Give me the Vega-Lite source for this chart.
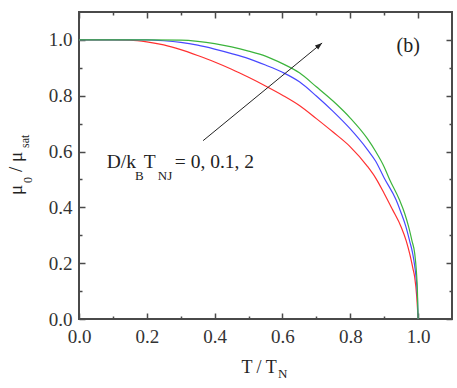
{
  "$schema": "https://vega.github.io/schema/vega-lite/v6.json",
  "width": 373,
  "height": 307,
  "autosize": {"type": "none"},
  "padding": {"left": 79, "top": 12, "right": 5, "bottom": 69},
  "background": "white",
  "config": {
    "font": "Liberation Serif",
    "view": {"stroke": "#4a4a4a", "strokeWidth": 2},
    "axis": {"grid": false, "domain": false, "title": null, "labelFont": "Liberation Serif", "labelFontSize": 19, "labelColor": "#333333", "tickColor": "#4a4a4a", "tickWidth": 1.5, "labelFlush": false, "labelOverlap": false},
    "text": {"font": "Liberation Serif", "color": "#222222"}
  },
  "datasets": {
    "curves": [
      {"T": 0.0, "m": 1.0, "s": "0"}, {"T": 0.05, "m": 1.0, "s": "0"}, {"T": 0.1, "m": 1.0, "s": "0"}, {"T": 0.15, "m": 0.999, "s": "0"}, {"T": 0.2, "m": 0.993, "s": "0"}, {"T": 0.25, "m": 0.982, "s": "0"}, {"T": 0.3, "m": 0.965, "s": "0"}, {"T": 0.35, "m": 0.944, "s": "0"}, {"T": 0.4, "m": 0.921, "s": "0"}, {"T": 0.45, "m": 0.895, "s": "0"}, {"T": 0.5, "m": 0.866, "s": "0"}, {"T": 0.55, "m": 0.835, "s": "0"}, {"T": 0.6, "m": 0.802, "s": "0"}, {"T": 0.65, "m": 0.765, "s": "0"}, {"T": 0.7, "m": 0.718, "s": "0"}, {"T": 0.75, "m": 0.669, "s": "0"}, {"T": 0.8, "m": 0.617, "s": "0"}, {"T": 0.85, "m": 0.548, "s": "0"}, {"T": 0.875, "m": 0.505, "s": "0"}, {"T": 0.9, "m": 0.45, "s": "0"}, {"T": 0.925, "m": 0.391, "s": "0"}, {"T": 0.95, "m": 0.33, "s": "0"}, {"T": 0.965, "m": 0.28, "s": "0"}, {"T": 0.975, "m": 0.235, "s": "0"}, {"T": 0.985, "m": 0.18, "s": "0"}, {"T": 0.99, "m": 0.15, "s": "0"}, {"T": 0.996, "m": 0.08, "s": "0"}, {"T": 1.0, "m": 0.0, "s": "0"},
      {"T": 0.0, "m": 1.0, "s": "0.1"}, {"T": 0.1, "m": 1.0, "s": "0.1"}, {"T": 0.2, "m": 1.0, "s": "0.1"}, {"T": 0.25, "m": 0.997, "s": "0.1"}, {"T": 0.3, "m": 0.991, "s": "0.1"}, {"T": 0.35, "m": 0.981, "s": "0.1"}, {"T": 0.4, "m": 0.967, "s": "0.1"}, {"T": 0.45, "m": 0.951, "s": "0.1"}, {"T": 0.5, "m": 0.933, "s": "0.1"}, {"T": 0.55, "m": 0.91, "s": "0.1"}, {"T": 0.6, "m": 0.884, "s": "0.1"}, {"T": 0.65, "m": 0.85, "s": "0.1"}, {"T": 0.7, "m": 0.799, "s": "0.1"}, {"T": 0.75, "m": 0.743, "s": "0.1"}, {"T": 0.8, "m": 0.681, "s": "0.1"}, {"T": 0.85, "m": 0.608, "s": "0.1"}, {"T": 0.875, "m": 0.565, "s": "0.1"}, {"T": 0.9, "m": 0.505, "s": "0.1"}, {"T": 0.935, "m": 0.427, "s": "0.1"}, {"T": 0.95, "m": 0.38, "s": "0.1"}, {"T": 0.964, "m": 0.331, "s": "0.1"}, {"T": 0.975, "m": 0.28, "s": "0.1"}, {"T": 0.984, "m": 0.235, "s": "0.1"}, {"T": 0.99, "m": 0.19, "s": "0.1"}, {"T": 0.994, "m": 0.15, "s": "0.1"}, {"T": 0.998, "m": 0.08, "s": "0.1"}, {"T": 1.0, "m": 0.0, "s": "0.1"},
      {"T": 0.0, "m": 1.0, "s": "2"}, {"T": 0.1, "m": 1.0, "s": "2"}, {"T": 0.2, "m": 1.0, "s": "2"}, {"T": 0.3, "m": 0.999, "s": "2"}, {"T": 0.35, "m": 0.995, "s": "2"}, {"T": 0.4, "m": 0.987, "s": "2"}, {"T": 0.45, "m": 0.975, "s": "2"}, {"T": 0.5, "m": 0.96, "s": "2"}, {"T": 0.55, "m": 0.942, "s": "2"}, {"T": 0.6, "m": 0.915, "s": "2"}, {"T": 0.65, "m": 0.882, "s": "2"}, {"T": 0.7, "m": 0.832, "s": "2"}, {"T": 0.75, "m": 0.78, "s": "2"}, {"T": 0.8, "m": 0.72, "s": "2"}, {"T": 0.85, "m": 0.647, "s": "2"}, {"T": 0.875, "m": 0.6, "s": "2"}, {"T": 0.9, "m": 0.545, "s": "2"}, {"T": 0.916, "m": 0.5, "s": "2"}, {"T": 0.945, "m": 0.427, "s": "2"}, {"T": 0.96, "m": 0.38, "s": "2"}, {"T": 0.972, "m": 0.331, "s": "2"}, {"T": 0.982, "m": 0.28, "s": "2"}, {"T": 0.99, "m": 0.235, "s": "2"}, {"T": 0.995, "m": 0.17, "s": "2"}, {"T": 0.998, "m": 0.1, "s": "2"}, {"T": 1.0, "m": 0.0, "s": "2"}
    ],
    "arrow": [{"x": 0.366, "y": 0.639}, {"x": 0.717, "y": 0.989}],
    "head": [{"x": 0.717, "y": 0.989}],
    "annMain": [{"x": 0.0815, "y": 0.54, "t": "D/k"}, {"x": 0.191, "y": 0.54, "t": "T"}, {"x": 0.2826, "y": 0.54, "t": "= 0, 0.1, 2"}],
    "annSub": [{"x": 0.165, "y": 0.498, "t": "B"}, {"x": 0.2326, "y": 0.498, "t": "NJ"}],
    "panel": [{"x": 0.971, "y": 0.957, "t": "(b)"}],
    "xtMain": [{"x": 0.479, "y": -0.1935, "t": "T / T"}],
    "xtSub": [{"x": 0.587, "y": -0.2115, "t": "N"}],
    "ytMain": [{"x": -0.168, "y": 0.444, "t": "μ"}, {"x": -0.168, "y": 0.527, "t": "/ μ"}],
    "ytSub": [{"x": -0.139, "y": 0.487, "t": "0"}, {"x": -0.146, "y": 0.613, "t": "sat"}]
  },
  "resolve": {"axis": {"x": "independent", "y": "independent"}},
  "layer": [
    {
      "data": {"name": "curves"},
      "mark": {"type": "line", "strokeWidth": 1.2, "interpolate": "monotone"},
      "encoding": {
        "x": {"field": "T", "type": "quantitative", "scale": {"domain": [0, 1.1], "nice": false, "zero": false},
              "axis": {"orient": "bottom", "values": [0, 0.2, 0.4, 0.6, 0.8, 1.0], "format": ".1f", "tickSize": -6, "labelPadding": 14, "title": null, "labelFont": "Liberation Serif"}},
        "y": {"field": "m", "type": "quantitative", "scale": {"domain": [0, 1.1], "nice": false, "zero": false},
              "axis": {"orient": "left", "values": [0, 0.2, 0.4, 0.6, 0.8, 1.0], "format": ".1f", "tickSize": -6, "labelPadding": 13, "title": null, "labelFont": "Liberation Serif"}},
        "color": {"field": "s", "type": "nominal", "scale": {"domain": ["0", "0.1", "2"], "range": ["#ff3030", "#4848ff", "#3cb43c"]}, "legend": null}
      }
    },
    {
      "data": {"name": "arrow"},
      "mark": {"type": "line", "color": "#222222", "strokeWidth": 1},
      "encoding": {
        "x": {"field": "x", "type": "quantitative", "scale": {"domain": [0, 1.1], "nice": false},
              "axis": {"orient": "top", "values": [0, 0.2, 0.4, 0.6, 0.8, 1.0], "labels": false, "tickSize": -6, "title": null}},
        "y": {"field": "y", "type": "quantitative", "scale": {"domain": [0, 1.1], "nice": false},
              "axis": {"orient": "right", "values": [0, 0.2, 0.4, 0.6, 0.8, 1.0], "labels": false, "tickSize": -6, "title": null}}
      }
    },
    {
      "data": {"name": "head"},
      "mark": {"type": "point", "shape": "M0,0L-1.3,3.6L1.3,3.6Z", "size": 16, "angle": 50.7, "filled": true, "color": "#222222", "opacity": 1},
      "encoding": {
        "x": {"field": "x", "type": "quantitative", "scale": {"domain": [0, 1.1], "nice": false},
              "axis": {"orient": "bottom", "values": [0.1, 0.3, 0.5, 0.7, 0.9], "labels": false, "tickSize": -3, "title": null}},
        "y": {"field": "y", "type": "quantitative", "scale": {"domain": [0, 1.1], "nice": false},
              "axis": {"orient": "left", "values": [0.1, 0.3, 0.5, 0.7, 0.9], "labels": false, "tickSize": -3, "title": null}}
      }
    },
    {
      "data": {"name": "annMain"},
      "mark": {"type": "text", "align": "left", "baseline": "alphabetic", "fontSize": 19.5, "font": "Liberation Serif"},
      "encoding": {
        "x": {"field": "x", "type": "quantitative", "scale": {"domain": [0, 1.1], "nice": false},
              "axis": {"orient": "top", "values": [0.1, 0.3, 0.5, 0.7, 0.9], "labels": false, "tickSize": -3, "title": null}},
        "y": {"field": "y", "type": "quantitative", "scale": {"domain": [0, 1.1], "nice": false},
              "axis": {"orient": "right", "values": [0.1, 0.3, 0.5, 0.7, 0.9], "labels": false, "tickSize": -3, "title": null}},
        "text": {"field": "t"}
      }
    },
    {
      "data": {"name": "annSub"},
      "mark": {"type": "text", "align": "left", "baseline": "alphabetic", "fontSize": 13, "font": "Liberation Serif"},
      "encoding": {
        "x": {"field": "x", "type": "quantitative", "scale": {"domain": [0, 1.1], "nice": false}, "axis": null},
        "y": {"field": "y", "type": "quantitative", "scale": {"domain": [0, 1.1], "nice": false}, "axis": null},
        "text": {"field": "t"}
      }
    },
    {
      "data": {"name": "panel"},
      "mark": {"type": "text", "align": "center", "baseline": "alphabetic", "fontSize": 20, "font": "Liberation Serif"},
      "encoding": {
        "x": {"field": "x", "type": "quantitative", "scale": {"domain": [0, 1.1], "nice": false}, "axis": null},
        "y": {"field": "y", "type": "quantitative", "scale": {"domain": [0, 1.1], "nice": false}, "axis": null},
        "text": {"field": "t"}
      }
    },
    {
      "data": {"name": "xtMain"},
      "mark": {"type": "text", "align": "left", "baseline": "alphabetic", "fontSize": 18, "font": "Liberation Serif"},
      "encoding": {
        "x": {"field": "x", "type": "quantitative", "scale": {"domain": [0, 1.1], "nice": false}, "axis": null},
        "y": {"field": "y", "type": "quantitative", "scale": {"domain": [0, 1.1], "nice": false}, "axis": null},
        "text": {"field": "t"}
      }
    },
    {
      "data": {"name": "xtSub"},
      "mark": {"type": "text", "align": "left", "baseline": "alphabetic", "fontSize": 13, "font": "Liberation Serif"},
      "encoding": {
        "x": {"field": "x", "type": "quantitative", "scale": {"domain": [0, 1.1], "nice": false}, "axis": null},
        "y": {"field": "y", "type": "quantitative", "scale": {"domain": [0, 1.1], "nice": false}, "axis": null},
        "text": {"field": "t"}
      }
    },
    {
      "data": {"name": "ytMain"},
      "mark": {"type": "text", "align": "left", "baseline": "alphabetic", "fontSize": 19, "angle": -90, "font": "Liberation Serif"},
      "encoding": {
        "x": {"field": "x", "type": "quantitative", "scale": {"domain": [0, 1.1], "nice": false}, "axis": null},
        "y": {"field": "y", "type": "quantitative", "scale": {"domain": [0, 1.1], "nice": false}, "axis": null},
        "text": {"field": "t"}
      }
    },
    {
      "data": {"name": "ytSub"},
      "mark": {"type": "text", "align": "left", "baseline": "alphabetic", "fontSize": 12, "angle": -90, "font": "Liberation Serif"},
      "encoding": {
        "x": {"field": "x", "type": "quantitative", "scale": {"domain": [0, 1.1], "nice": false}, "axis": null},
        "y": {"field": "y", "type": "quantitative", "scale": {"domain": [0, 1.1], "nice": false}, "axis": null},
        "text": {"field": "t"}
      }
    }
  ]
}
